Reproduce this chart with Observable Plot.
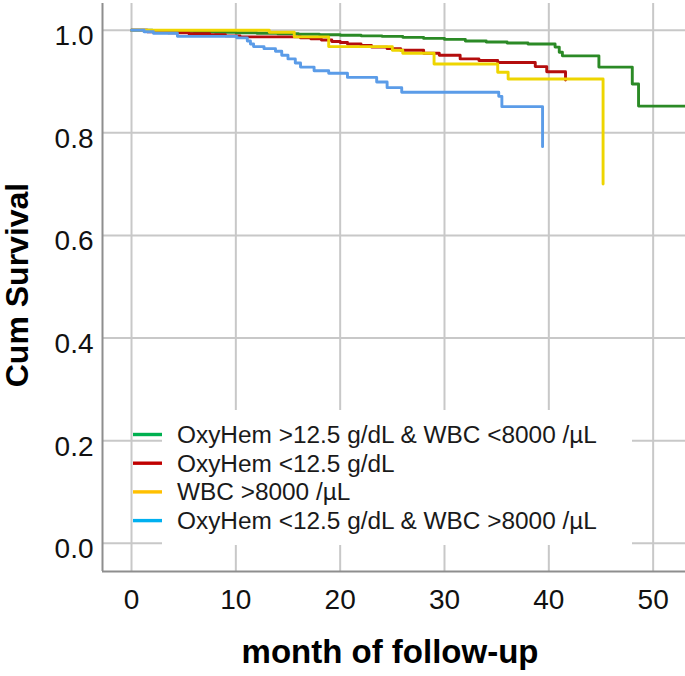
<!DOCTYPE html>
<html>
<head>
<meta charset="utf-8">
<script src="https://cdn.jsdelivr.net/npm/d3@7"></script>
<script src="https://cdn.jsdelivr.net/npm/@observablehq/plot@0.6"></script>
<style>
  html, body { margin: 0; padding: 0; background: #fff; }
  #chart { width: 685px; height: 676px; }
</style>
</head>
<body>
<div id="chart"></div>
<script>
// ---- Data ----
const groups = [
  "OxyHem >12.5 g/dL & WBC <8000 /µL",
  "OxyHem <12.5 g/dL",
  "WBC >8000 /µL",
  "OxyHem <12.5 g/dL & WBC >8000 /µL"
];
const curveColors  = ["#2b8a26", "#b40d0d", "#eed500", "#5b9ce8"];
const legendColors = ["#00b050", "#c00000", "#ffc000", "#00b0f0"];

const greenMonths = [0, 2, 4, 6, 8, 10, 12, 14, 16, 18, 20, 22, 24, 26, 28, 30, 32, 34, 36, 38, 40.6, 41.0, 41.3, 44.8, 48.0, 48.6, 53.5];
const greenSurv   = [1.0, 0.999, 0.998, 0.997, 0.996, 0.995, 0.994, 0.993, 0.992, 0.991, 0.990, 0.989, 0.988, 0.986, 0.984, 0.982, 0.979, 0.977, 0.975, 0.973, 0.967, 0.957, 0.950, 0.928, 0.895, 0.852, 0.852];

const redMonths = [0, 1.5, 3.5, 5.5, 7.5, 9, 10.4, 16.2, 17.2, 18.2, 19.2, 20.0, 20.7, 22.0, 23.0, 24.5, 25.8, 28.0, 29.5, 31.5, 33.3, 35.1, 38.7, 39.8, 41.6];
const redSurv   = [1.0, 0.997, 0.995, 0.993, 0.991, 0.989, 0.987, 0.985, 0.983, 0.981, 0.978, 0.976, 0.973, 0.970, 0.967, 0.964, 0.961, 0.955, 0.951, 0.944, 0.941, 0.937, 0.929, 0.919, 0.903];

const yellowMonths = [0, 13.2, 15.6, 18.9, 25.0, 26.0, 29.0, 35.1, 36.1, 45.2];
const yellowSurv   = [1.0, 0.996, 0.987, 0.968, 0.961, 0.955, 0.934, 0.918, 0.905, 0.700];

const blueMonths = [0, 1.2, 2.1, 4.4, 10.1, 11.1, 11.4, 11.7, 12.7, 13.8, 14.4, 15.0, 15.7, 16.2, 17.5, 18.9, 20.7, 23.5, 24.5, 25.9, 35.2, 35.5, 39.4];
const blueSurv   = [1.0, 0.997, 0.994, 0.988, 0.985, 0.979, 0.973, 0.968, 0.964, 0.959, 0.951, 0.944, 0.936, 0.928, 0.921, 0.916, 0.908, 0.899, 0.888, 0.879, 0.871, 0.851, 0.773];

const xTicks = [0, 10, 20, 30, 40, 50];
const yTicks = [0.0, 0.2, 0.4, 0.6, 0.8, 1.0];
const xDomain = [-2.78, 53.1];
const yDomain = [-0.055, 1.052];

// ---- Build table ----
const seriesMonths = [greenMonths, redMonths, yellowMonths, blueMonths];
const seriesSurv = [greenSurv, redSurv, yellowSurv, blueSurv];
const rows = [];
groups.forEach((g, i) => {
  seriesMonths[i].forEach((m, j) => rows.push({group: g, month: m, surv: seriesSurv[i][j]}));
});

const FONT = "'Liberation Sans', Arial, Helvetica, sans-serif";

const chart = Plot.plot({
  width: 685,
  height: 676,
  marginLeft: 102,
  marginRight: 0,
  marginTop: 3,
  marginBottom: 105,
  style: {fontFamily: FONT, fontSize: "28px", color: "#111", background: "#fff"},
  x: {domain: xDomain},
  y: {domain: yDomain},
  color: {domain: groups, range: curveColors},
  marks: [
    Plot.gridX(xTicks, {stroke: "#c8c8c8", strokeOpacity: 1, strokeWidth: 2}),
    Plot.gridY(yTicks, {stroke: "#c8c8c8", strokeOpacity: 1, strokeWidth: 2}),
    Plot.ruleX([xDomain[0]], {stroke: "#8e8e8e", strokeWidth: 2}),
    Plot.ruleY([yDomain[0]], {stroke: "#8e8e8e", strokeWidth: 2}),
    Plot.axisY(yTicks, {tickSize: 0, tickPadding: 9, dy: 6, tickFormat: d3.format(".1f"), label: null, fontSize: 28, fill: "#111"}),
    Plot.axisX(xTicks, {tickSize: 0, tickPadding: 18, tickFormat: d3.format("d"), label: null, fontSize: 28, fill: "#111"}),
    Plot.line(rows, {x: "month", y: "surv", z: "group", stroke: "group", curve: "step-after", strokeWidth: 2.9, clip: true})
  ]
});

document.getElementById("chart").appendChild(chart);

// ---- Titles and legend ----
const svg = d3.select(chart);
svg.append("text")
  .attr("x", 390).attr("y", 663)
  .attr("text-anchor", "middle")
  .style("font-family", FONT).style("font-size", "33px").style("font-weight", "bold").attr("fill", "#000")
  .text("month of follow-up");
svg.append("text")
  .attr("transform", "translate(28,285) rotate(-90)")
  .attr("text-anchor", "middle")
  .style("font-family", FONT).style("font-size", "32px").style("font-weight", "bold").attr("fill", "#000")
  .text("Cum Survival");

const leg = svg.append("g").attr("text-anchor", "start");
leg.append("rect").attr("x", 162).attr("y", 410).attr("width", 470).attr("height", 135).attr("fill", "#fff");
groups.forEach((g, i) => {
  const base = 443 + i * 28.7;
  leg.append("line")
    .attr("x1", 133).attr("x2", 162).attr("y1", base - 8.5).attr("y2", base - 8.5)
    .attr("stroke", legendColors[i]).attr("stroke-width", 3.4);
  leg.append("text")
    .attr("x", 177).attr("y", base)
    .attr("text-anchor", "start")
    .style("font-family", FONT).style("font-size", "24.4px").attr("fill", "#1a1a1a")
    .text(g);
});
</script>
</body>
</html>
